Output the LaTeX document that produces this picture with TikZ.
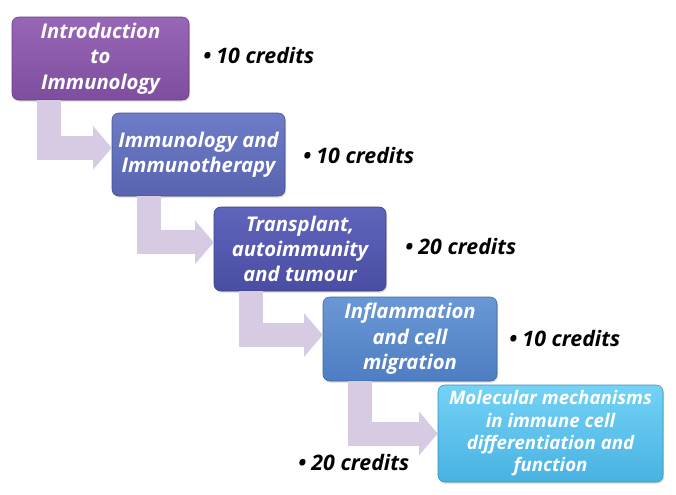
\documentclass[tikz,border=0pt]{standalone}
\usepackage{fontspec}
\setmainfont{Open Sans}
\usetikzlibrary{arrows.meta, shadows}

\definecolor{lavender}{HTML}{D6CBE2}
\definecolor{introtop}{HTML}{9866B6}
\definecolor{introbot}{HTML}{7E4E9E}
\definecolor{therapytop}{HTML}{6E7CC8}
\definecolor{therapybot}{HTML}{5864B0}
\definecolor{transtop}{HTML}{6064BC}
\definecolor{transbot}{HTML}{4A4EA2}
\definecolor{inflamtop}{HTML}{6A98D6}
\definecolor{inflambot}{HTML}{4E7EC2}
\definecolor{molectop}{HTML}{74D2F6}
\definecolor{molecbot}{HTML}{48B2E2}

\tikzset{
	module/.style = {rounded corners=5pt, align=center, inner sep=0pt, text=white,
		font=\fontsize{15.2}{19}\selectfont\bfseries\itshape,
		drop shadow={opacity=0.3, shadow xshift=0.8pt, shadow yshift=-1.2pt}},
	credits/.style = {anchor=west, inner sep=0pt, text=black,
		font=\fontsize{16}{19}\selectfont\bfseries\itshape},
	flow/.style = {lavender, line width=18pt, line join=miter,
		-{Triangle[length=14pt, width=32pt]}}
}

\begin{document}
\begin{tikzpicture}[x=0.75pt, y=-0.75pt]
	\useasboundingbox (0,0) rectangle (676,494);
	% course modules
	\node[module, top color=introtop, bottom color=introbot, draw=introbot!80!black,
		minimum width=132.75pt, minimum height=62.25pt]
		(intro) at (100.5,58.5) {Introduction\\to\\Immunology};
	\node[module, top color=therapytop, bottom color=therapybot, draw=therapybot!80!black,
		minimum width=129.75pt, minimum height=62.25pt]
		(therapy) at (198.5,154.5) {Immunology and\\Immunotherapy};
	\node[module, top color=transtop, bottom color=transbot, draw=transbot!80!black,
		minimum width=129pt, minimum height=63pt]
		(transplant) at (300,249) {Transplant,\\autoimmunity\\and tumour};
	\node[module, top color=inflamtop, bottom color=inflambot, draw=inflambot!80!black,
		minimum width=130.5pt, minimum height=63pt]
		(inflam) at (410,339) {Inflammation\\and cell\\migration};
	\node[module, top color=molectop, bottom color=molecbot, draw=molecbot!80!black,
		minimum width=168.75pt, minimum height=72.75pt,
		font=\fontsize{14}{16.8}\selectfont\bfseries\itshape]
		(molec) at (550.5,433.5) {Molecular mechanisms\\in immune cell\\differentiation and\\function};

	% arrows between modules
	\draw[flow] ([xshift=28pt]intro.south west) |- ([yshift=5pt]therapy.west);
	\draw[flow] ([xshift=28pt]therapy.south west) |- ([yshift=5pt]transplant.west);
	\draw[flow] ([xshift=28pt]transplant.south west) |- ([yshift=3pt]inflam.west);
	\draw[flow] ([xshift=28pt]inflam.south west) |- (molec.west);

	% credits
	\node[credits] (c1) at (203,55) {• 10 credits};
	\node[credits] (c2) at (303,155) {• 10 credits};
	\node[credits] (c3) at (405,246) {• 20 credits};
	\node[credits] (c4) at (509,338) {• 10 credits};
	\node[credits] (c5) at (298,462) {• 20 credits};
\end{tikzpicture}
\end{document}
